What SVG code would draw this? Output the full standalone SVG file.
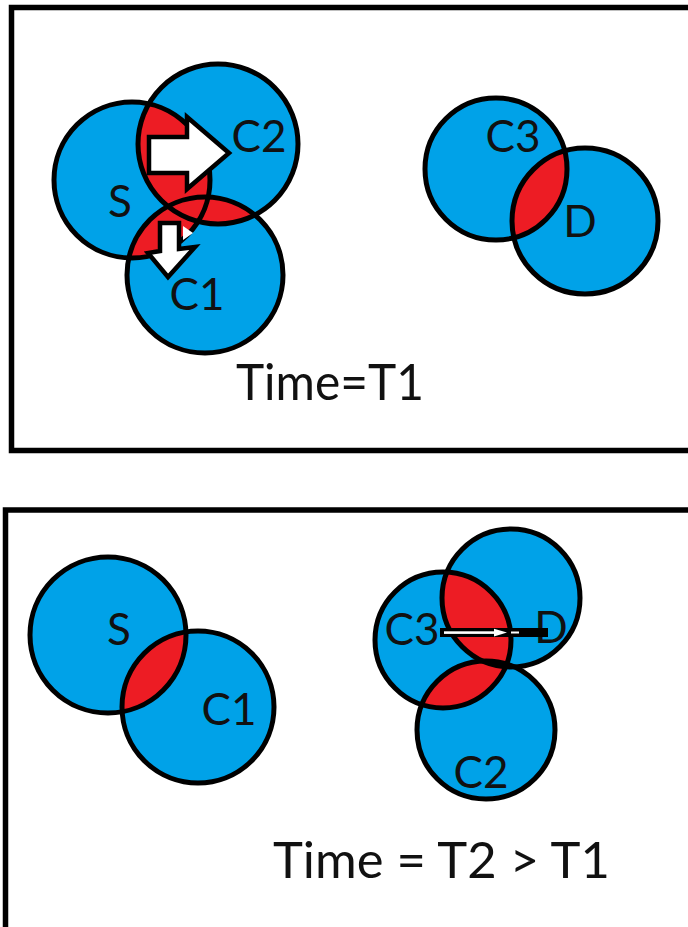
<svg xmlns="http://www.w3.org/2000/svg" xmlns:xlink="http://www.w3.org/1999/xlink" width="688" height="927" viewBox="0 0 688 927">
  <style>
    .frame { fill: none; stroke: #000; stroke-width: 5.5; }
    .disc { fill: #00A2E8; }
    .lens { fill: #ED1C24; }
    .ring { fill: none; stroke: #000; stroke-width: 5; }
    .lbl { font-family: Lato, "Open Sans", "Liberation Sans", sans-serif; font-size: 44px; fill: #111; text-anchor: middle; }
    .cap { font-family: Lato, "Open Sans", "Liberation Sans", sans-serif; font-size: 50px; fill: #111; }
    .arrow { fill: #fff; stroke: #000; stroke-width: 4.5; stroke-linejoin: miter; }
  </style>
  <defs>
    <!-- circle geometry, shared by discs, clips and rims -->
    <circle id="g-t-s" cx="132" cy="180" r="78"/>
    <circle id="g-t-c2" cx="218" cy="144" r="80"/>
    <circle id="g-t-c1" cx="205" cy="275" r="78"/>
    <circle id="g-t-c3" cx="496" cy="169" r="71"/>
    <circle id="g-t-d" cx="585" cy="221" r="73"/>
    <circle id="g-b-s" cx="108" cy="635" r="78"/>
    <circle id="g-b-c1" cx="198" cy="707" r="76"/>
    <circle id="g-b-c3" cx="443" cy="640" r="68"/>
    <circle id="g-b-d" cx="511" cy="598" r="69"/>
    <circle id="g-b-c2" cx="486" cy="730" r="69"/>
    <clipPath id="k-t-s"><use xlink:href="#g-t-s"/></clipPath>
    <clipPath id="k-t-c2"><use xlink:href="#g-t-c2"/></clipPath>
    <clipPath id="k-t-c3"><use xlink:href="#g-t-c3"/></clipPath>
    <clipPath id="k-b-s"><use xlink:href="#g-b-s"/></clipPath>
    <clipPath id="k-b-c3"><use xlink:href="#g-b-c3"/></clipPath>
    <clipPath id="k-b-d"><use xlink:href="#g-b-d"/></clipPath>
  </defs>

  <rect width="688" height="927" fill="#fff"/>

  <!-- panel frames (right and lower sides run off the canvas) -->
  <rect class="frame" x="11.5" y="7.5" width="700" height="443"/>
  <rect class="frame" x="5.5" y="510" width="700" height="440"/>

  <!-- Time = T1 -->
  <g id="t-s"><use xlink:href="#g-t-s" class="disc"/></g>
  <g id="t-c2"><use xlink:href="#g-t-c2" class="disc"/></g>
  <g id="t-c1"><use xlink:href="#g-t-c1" class="disc"/></g>
  <g id="t-c3"><use xlink:href="#g-t-c3" class="disc"/></g>
  <g id="t-d"><use xlink:href="#g-t-d" class="disc"/></g>

  <!-- Time = T2 -->
  <g id="b-s"><use xlink:href="#g-b-s" class="disc"/></g>
  <g id="b-c1"><use xlink:href="#g-b-c1" class="disc"/></g>
  <g id="b-c3"><use xlink:href="#g-b-c3" class="disc"/></g>
  <g id="b-d"><use xlink:href="#g-b-d" class="disc"/></g>
  <g id="b-c2"><use xlink:href="#g-b-c2" class="disc"/></g>

  <!-- overlap regions -->
  <g id="overlaps">
    <use xlink:href="#g-t-c2" class="lens" clip-path="url(#k-t-s)"/>
    <use xlink:href="#g-t-c1" class="lens" clip-path="url(#k-t-s)"/>
    <use xlink:href="#g-t-c1" class="lens" clip-path="url(#k-t-c2)"/>
    <use xlink:href="#g-t-d" class="lens" clip-path="url(#k-t-c3)"/>
    <use xlink:href="#g-b-c1" class="lens" clip-path="url(#k-b-s)"/>
    <use xlink:href="#g-b-d" class="lens" clip-path="url(#k-b-c3)"/>
    <use xlink:href="#g-b-c2" class="lens" clip-path="url(#k-b-c3)"/>
    <use xlink:href="#g-b-c2" class="lens" clip-path="url(#k-b-d)"/>
  </g>

  <!-- circle outlines -->
  <g id="rims">
    <use xlink:href="#g-t-s" class="ring"/>
    <use xlink:href="#g-t-c2" class="ring"/>
    <use xlink:href="#g-t-c1" class="ring"/>
    <use xlink:href="#g-t-c3" class="ring"/>
    <use xlink:href="#g-t-d" class="ring"/>
    <use xlink:href="#g-b-s" class="ring"/>
    <use xlink:href="#g-b-c1" class="ring"/>
    <use xlink:href="#g-b-c3" class="ring"/>
    <use xlink:href="#g-b-d" class="ring"/>
    <use xlink:href="#g-b-c2" class="ring"/>
  </g>

  <!-- node labels -->
  <g id="labels">
    <text class="lbl" x="120" y="217">S</text>
    <text class="lbl" x="259" y="152">C2</text>
    <text class="lbl" x="197" y="310">C1</text>
    <text class="lbl" x="513" y="152">C3</text>
    <text class="lbl" x="580" y="237">D</text>
    <text class="lbl" x="119" y="645">S</text>
    <text class="lbl" x="229" y="725">C1</text>
    <text class="lbl" x="412" y="645">C3</text>
    <text class="lbl" x="551" y="643">D</text>
    <text class="lbl" x="481" y="788">C2</text>
  </g>

  <!-- transfer arrows -->
  <g id="connectors">
    <polygon class="arrow" points="149,137 187,137 187,117 229,153 187,189 187,173 149,173"/>
    <polygon class="arrow" points="160,223 179,223 179,249 195,247 168,277 148,253 160,251"/>
    <polygon points="183,226 193,233 183,240" fill="#fff"/>
    <rect x="440" y="628" width="108" height="9" fill="#000"/>
    <rect x="444" y="631.3" width="52" height="2.6" fill="#fff"/>
    <polygon points="494,628.8 507,632.6 494,636.4" fill="#fff"/>
    <rect x="511" y="631.5" width="8" height="2" fill="#fff"/>
  </g>

  <!-- panel captions -->
  <text class="cap" x="236" y="400" textLength="188" lengthAdjust="spacingAndGlyphs">Time=T1</text>
  <text class="cap" x="273" y="878" textLength="337" lengthAdjust="spacingAndGlyphs">Time = T2 &gt; T1</text>
</svg>
